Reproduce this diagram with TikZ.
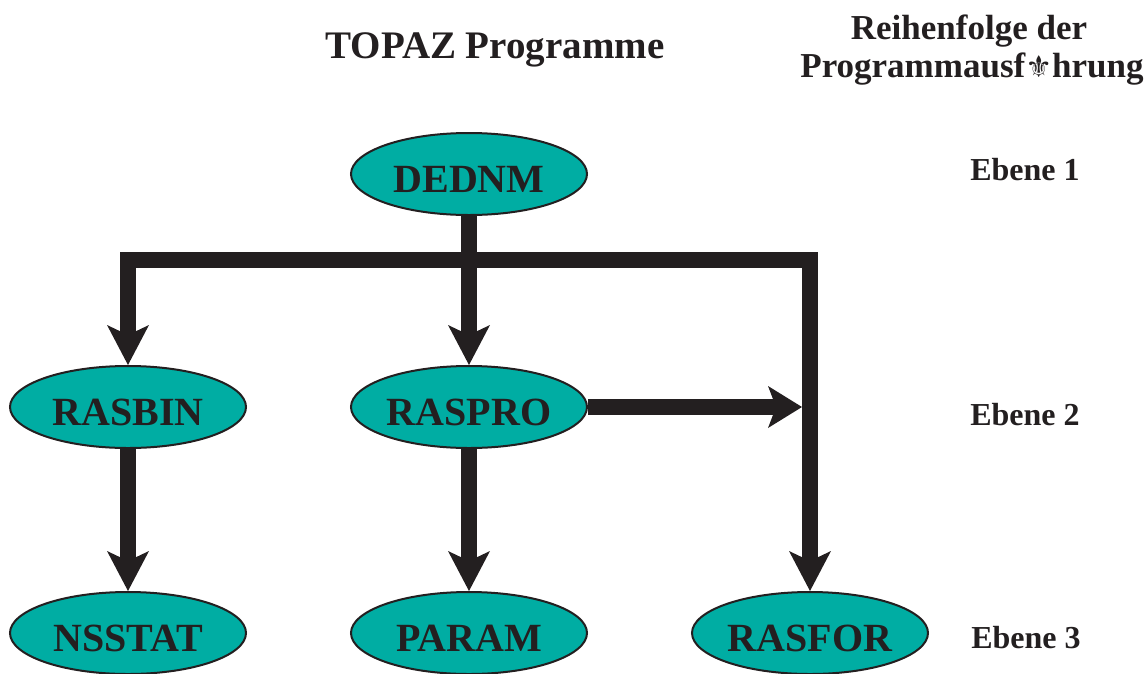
\documentclass[tikz,border=0pt]{standalone}
\usepackage{fontspec}
\setmainfont{Liberation Serif}
\newfontfamily\symfont{DejaVu Sans}
\usetikzlibrary{arrows.meta,shapes.geometric}
\definecolor{ink}{RGB}{35,31,32}
\definecolor{tealfill}{RGB}{0,173,163}
\tikzset{
  prog/.style={ellipse, draw=ink, line width=2pt, fill=tealfill, text=ink,
    minimum width=236pt, minimum height=82pt, inner xsep=-25pt, inner ysep=0pt,
    text height=36pt, text depth=0pt,
    font=\fontsize{40}{40}\selectfont\bfseries},
  conn/.style={draw=ink, line width=16pt},
  tipped/.style={conn, -{Stealth[length=40pt,width=42pt,inset=10pt,line width=0pt]}},
  lvl/.style={text=ink, anchor=base, inner sep=0pt, font=\fontsize{32}{32}\selectfont\bfseries},
  hdr/.style={lvl, font=\fontsize{35}{35}\selectfont\bfseries},
}
\begin{document}
\begin{tikzpicture}[x=1pt,y=-1pt]
\useasboundingbox (0,0) rectangle (1146,673);
% title and headers
\node[lvl, font=\fontsize{39}{39}\selectfont\bfseries] (title) at (495,58) {TOPAZ Programme};
\node[hdr] (hdr1) at (969,39) {Reihenfolge der};
\node[hdr] (hdr2) at (972,77) {Programmausf{\symfont\fontsize{30}{30}\selectfont ⚜}hrung};
\node[lvl] (eb1) at (1025,180) {Ebene 1};
\node[lvl] (eb2) at (1025,425) {Ebene 2};
\node[lvl] (eb3) at (1026,648) {Ebene 3};
% programs
\node[prog] (dednm)  at (469,174) {DEDNM};
\node[prog] (rasbin) at (128,407) {RASBIN};
\node[prog] (raspro) at (469,407) {RASPRO};
\node[prog] (nsstat) at (128,633) {NSSTAT};
\node[prog] (param)  at (469,633) {PARAM};
\node[prog] (rasfor) at (810,633) {RASFOR};
% junction points
\coordinate (jl) at (128,260);
\coordinate (jr) at (810,260);
\coordinate (jh) at (802,407);
% connectors
\draw[conn, line cap=rect] (jl) -- (jr);
\draw[tipped] (jl) -- (rasbin.north);
\draw[tipped] (dednm.south) -- (raspro.north);
\draw[tipped] (jr) -- (rasfor.north);
\draw[conn, -{Stealth[length=34pt,width=42pt,inset=8pt,line width=0pt]}] (raspro.east) -- (jh);
\draw[tipped] (rasbin.south) -- (nsstat.north);
\draw[tipped] (raspro.south) -- (param.north);
\end{tikzpicture}
\end{document}
